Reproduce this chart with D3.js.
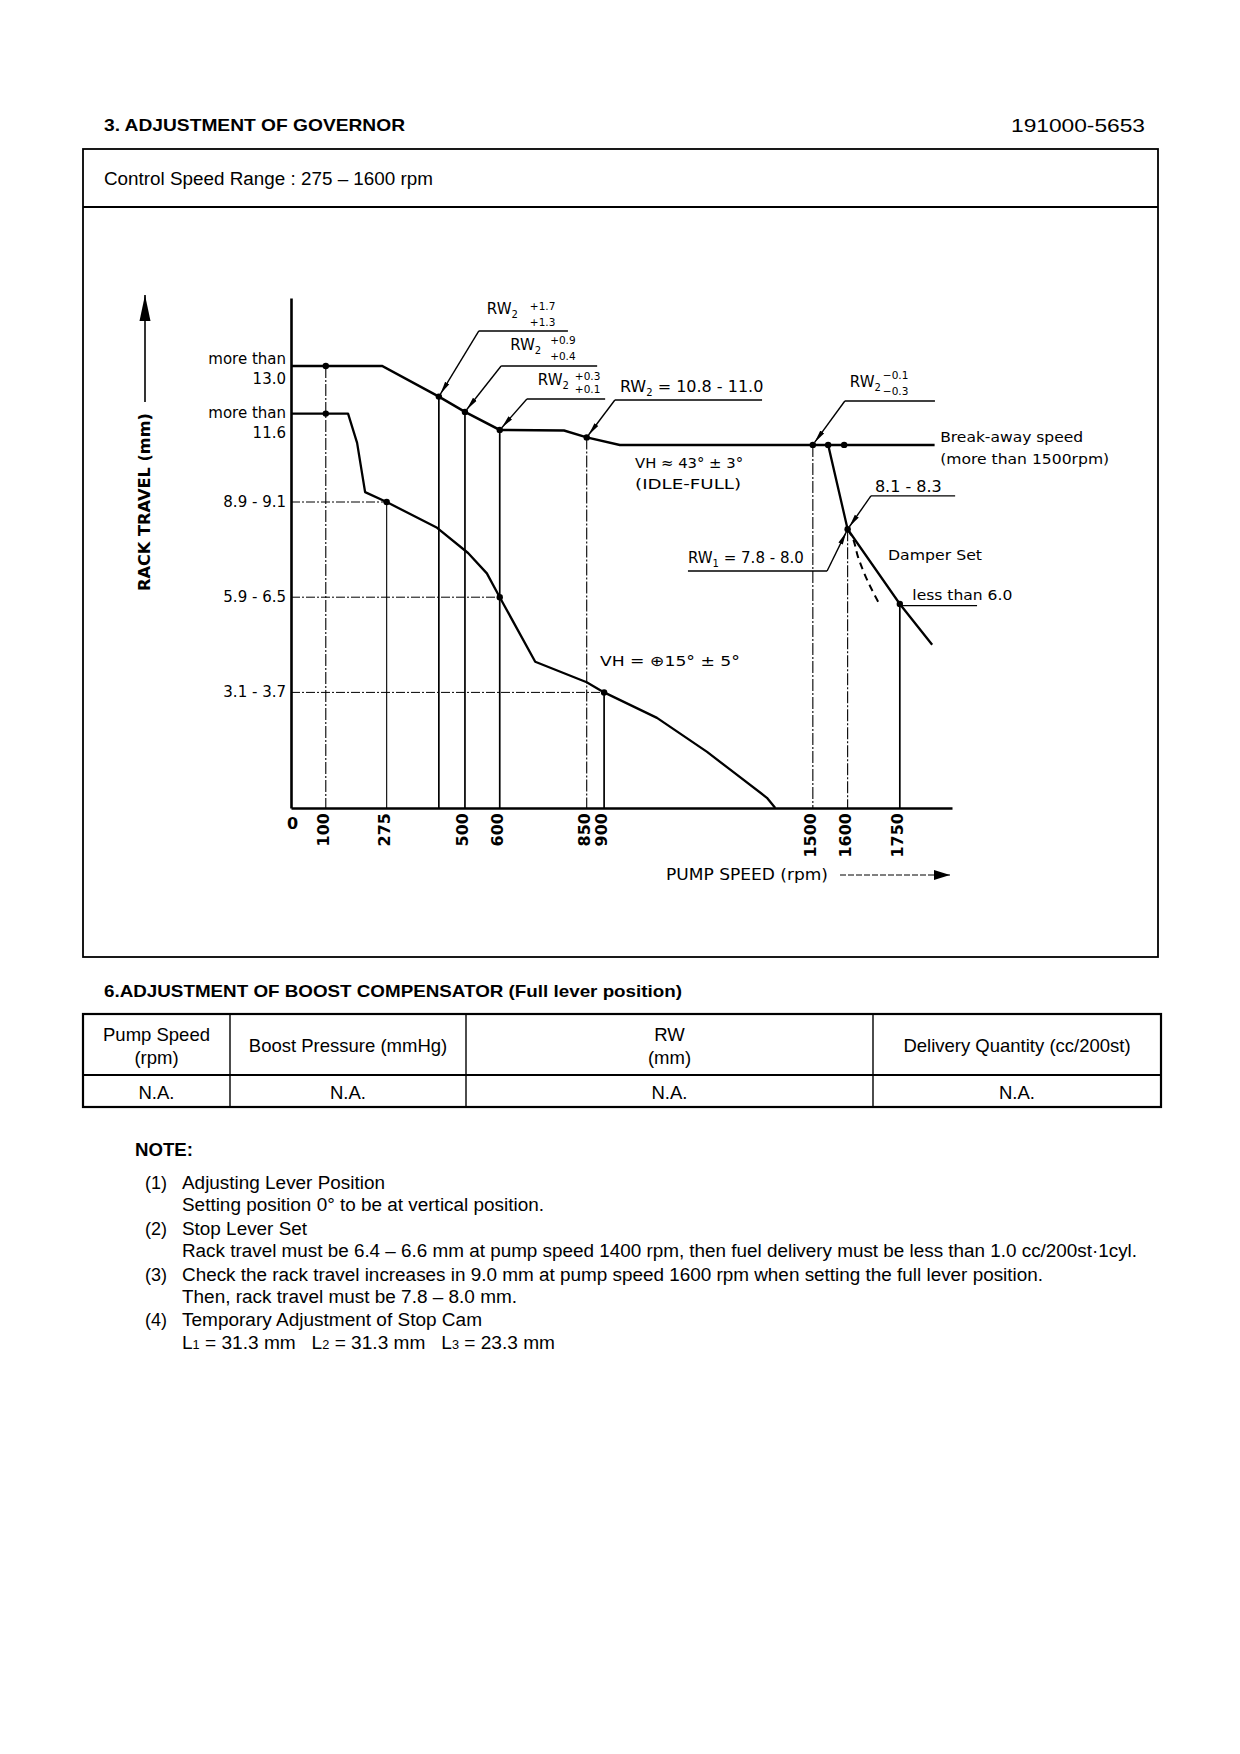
<!DOCTYPE html>
<html>
<head>
<meta charset="utf-8">
<script src="https://cdn.jsdelivr.net/npm/d3@7"></script>
<style>
  body { margin: 0; background: #fff; }
  svg text { font-family: "Liberation Sans", Arial, sans-serif; fill: #000; }
  .chart text { font-family: "DejaVu Sans", sans-serif; }
</style>
</head>
<body>
<svg width="1240" height="1754"></svg>
<script>
// ---- data (rpm / rack travel mm) ----
var rpmTicks = [0, 100, 275, 500, 600, 850, 900, 1500, 1600, 1750];

var fullRpm  = [0, 262, 425, 500, 600, 785, 850, 945, 1500, 1544, 1590, 1850];
var fullRack = [13.0, 13.0, 12.1, 11.65, 11.12, 11.1, 10.9, 10.68, 10.68, 10.68, 10.68, 10.68];

var breakRpm  = [1544, 1600, 1750, 1843];
var breakRack = [10.68, 8.2, 6.0, 4.8];

var damperRpm  = [1600, 1613, 1630, 1656, 1688];
var damperRack = [8.2, 7.97, 7.38, 6.71, 6.06];

var idleRpm  = [0, 164, 190, 213, 275, 420, 509, 563, 600, 702, 850, 900, 1052, 1196, 1271, 1368, 1392];
var idleRack = [11.6, 11.6, 10.74, 9.29, 9.0, 8.24, 7.5, 6.9, 6.2, 4.3, 3.7, 3.4, 2.65, 1.65, 1.06, 0.3, 0];

var dotRpm  = [100, 100, 275, 425, 500, 600, 850, 600, 900, 1500, 1544, 1590, 1600, 1750];
var dotRack = [13.0, 11.6, 9.0, 12.1, 11.65, 11.12, 10.9, 6.2, 3.4, 10.68, 10.68, 10.68, 8.2, 6.0];

var dropRpm  = [100, 275, 425, 500, 600, 850, 900, 1500, 1600, 1750];
var dropRack = [13.0, 9.0, 12.1, 11.65, 11.12, 10.9, 3.4, 10.68, 8.2, 6.0];
var dashDropRpm = [100, 850, 1500, 1600];

var refRpm  = [275, 600, 900];
var refRack = [9.0, 6.2, 3.4];

var rackLabelAt = [13.0, 11.6, 9.0, 6.2, 3.4];
var rackLabels  = [["more than", "13.0"], ["more than", "11.6"], ["8.9 - 9.1"], ["5.9 - 6.5"], ["3.1 - 3.7"]];

var tableHead = [["Pump Speed", "(rpm)"], ["Boost Pressure (mmHg)"], ["RW", "(mm)"], ["Delivery Quantity (cc/200st)"]];
var tableRow  = ["N.A.", "N.A.", "N.A.", "N.A."];

var notes = [
  ["(1)", "Adjusting Lever Position"],
  ["", "Setting position 0° to be at vertical position."],
  ["(2)", "Stop Lever Set"],
  ["", "Rack travel must be 6.4 – 6.6 mm at pump speed 1400 rpm, then fuel delivery must be less than 1.0 cc/200st·1cyl."],
  ["(3)", "Check the rack travel increases in 9.0 mm at pump speed 1600 rpm when setting the full lever position."],
  ["", "Then, rack travel must be 7.8 – 8.0 mm."],
  ["(4)", "Temporary Adjustment of Stop Cam"],
  ["", "L1 = 31.3 mm   L2 = 31.3 mm   L3 = 23.3 mm"]
];
var noteWidth = [203, 362, 125, 955, 861, 335, 300, 373];

var svg = d3.select("svg");
var zip = function (a, b) { return a.map(function (v, i) { return [v, b[i]]; }); };

// ---- page frame ----
svg.append("text").attr("x", 104).attr("y", 131).attr("font-size", 16.5).attr("font-weight", "bold")
  .attr("textLength", 301).attr("lengthAdjust", "spacingAndGlyphs")
  .text("3.  ADJUSTMENT OF GOVERNOR");
svg.append("text").attr("x", 1145).attr("y", 132).attr("font-size", 19).attr("text-anchor", "end")
  .attr("textLength", 134).attr("lengthAdjust", "spacingAndGlyphs")
  .text("191000-5653");

svg.append("rect").attr("x", 83).attr("y", 149).attr("width", 1075).attr("height", 808)
  .attr("fill", "none").attr("stroke", "#000").attr("stroke-width", 1.8);
svg.append("line").attr("x1", 83).attr("x2", 1158).attr("y1", 207).attr("y2", 207)
  .attr("stroke", "#000").attr("stroke-width", 1.8);
svg.append("text").attr("x", 104).attr("y", 185).attr("font-size", 18)
  .attr("textLength", 329).attr("lengthAdjust", "spacingAndGlyphs")
  .text("Control Speed Range : 275 – 1600 rpm");

// ---- chart ----
var x = d3.scaleLinear().domain([0, 1900]).range([291, 952]);
var y = d3.scaleLinear().domain([0, 15]).range([808, 298]);
var line = d3.line().x(function (d) { return x(d[0]); }).y(function (d) { return y(d[1]); });

var g = svg.append("g").attr("class", "chart");

var defs = svg.append("defs");
defs.append("marker").attr("id", "arr").attr("viewBox", "0 0 13 6")
  .attr("refX", 13).attr("refY", 3).attr("markerWidth", 13).attr("markerHeight", 6)
  .attr("markerUnits", "userSpaceOnUse").attr("orient", "auto")
  .append("path").attr("d", "M0,0.6L13,3L0,5.4Z").attr("fill", "#000");
defs.append("marker").attr("id", "arr2").attr("viewBox", "0 0 26 12")
  .attr("refX", 26).attr("refY", 6).attr("markerWidth", 26).attr("markerHeight", 12)
  .attr("markerUnits", "userSpaceOnUse").attr("orient", "auto")
  .append("path").attr("d", "M0,0.5L26,6L0,11.5Z").attr("fill", "#000");
defs.append("marker").attr("id", "arr3").attr("viewBox", "0 0 16 10")
  .attr("refX", 16).attr("refY", 5).attr("markerWidth", 16).attr("markerHeight", 10)
  .attr("markerUnits", "userSpaceOnUse").attr("orient", "auto")
  .append("path").attr("d", "M0,0L16,5L0,10Z").attr("fill", "#000");

// reference lines
g.selectAll(".ref").data(zip(refRpm, refRack)).enter().append("line")
  .attr("x1", x(0)).attr("x2", function (d) { return x(d[0]); })
  .attr("y1", function (d) { return y(d[1]); }).attr("y2", function (d) { return y(d[1]); })
  .attr("stroke", "#000").attr("stroke-width", 1).attr("stroke-dasharray", "9,2,2,2");

g.selectAll(".drop").data(zip(dropRpm, dropRack)).enter().append("line")
  .attr("x1", function (d) { return x(d[0]); }).attr("x2", function (d) { return x(d[0]); })
  .attr("y1", function (d) { return y(d[1]); }).attr("y2", y(0))
  .attr("stroke", "#000")
  .attr("stroke-width", function (d) { return dashDropRpm.indexOf(d[0]) >= 0 ? 1.1 : (d[0] === 275 ? 1.1 : 1.7); })
  .attr("stroke-dasharray", function (d) { return dashDropRpm.indexOf(d[0]) >= 0 ? "12,2,2,2" : null; });

// axes
g.append("g").attr("transform", "translate(" + x(0) + ",0)")
  .call(d3.axisLeft(y).tickValues([]).tickSizeOuter(0))
  .call(function (a) { a.select(".domain").attr("stroke-width", 2.6); });

var xa = g.append("g").attr("transform", "translate(0," + y(0) + ")")
  .call(d3.axisBottom(x).tickValues(rpmTicks).tickSize(0).tickSizeOuter(0).tickFormat(d3.format("d")));
xa.select(".domain").attr("stroke-width", 2.6);
xa.selectAll(".tick text")
  .attr("font-size", 16).attr("font-weight", "bold").attr("font-family", "DejaVu Sans Condensed, DejaVu Sans")
  .attr("dy", null).attr("y", null)
  .attr("text-anchor", function (d) { return d === 0 ? "middle" : "end"; })
  .attr("dominant-baseline", "central")
  .attr("transform", function (d) { return d === 0 ? "translate(1,15)" : "translate(-3,5) rotate(-90)"; });

// curves
g.append("path").datum(zip(fullRpm, fullRack)).attr("d", line)
  .attr("fill", "none").attr("stroke", "#000").attr("stroke-width", 2.5);
g.append("path").datum(zip(breakRpm, breakRack)).attr("d", line)
  .attr("fill", "none").attr("stroke", "#000").attr("stroke-width", 2.3);
g.append("path").datum(zip(idleRpm, idleRack)).attr("d", line)
  .attr("fill", "none").attr("stroke", "#000").attr("stroke-width", 2.3).attr("stroke-linejoin", "round");
g.append("path").datum(zip(damperRpm, damperRack)).attr("d", line.curve(d3.curveMonotoneY))
  .attr("fill", "none").attr("stroke", "#000").attr("stroke-width", 2).attr("stroke-dasharray", "7,5");
line.curve(d3.curveLinear);

g.selectAll(".dot").data(zip(dotRpm, dotRack)).enter().append("circle")
  .attr("cx", function (d) { return x(d[0]); }).attr("cy", function (d) { return y(d[1]); })
  .attr("r", 3.2).attr("fill", "#000");

// rack labels
rackLabels.forEach(function (lab, i) {
  var yy = y(rackLabelAt[i]);
  var off = lab.length === 2 ? (i === 0 ? [-2, 18] : [4, 24]) : [5];
  lab.forEach(function (s, k) {
    g.append("text").attr("x", 286).attr("y", yy + off[k]).attr("text-anchor", "end")
      .attr("font-size", 15).text(s);
  });
});

// axis titles
g.append("text").attr("transform", "translate(150,502) rotate(-90)").attr("text-anchor", "middle")
  .attr("font-size", 15).attr("font-weight", "bold")
  .attr("textLength", 178).attr("lengthAdjust", "spacingAndGlyphs").text("RACK TRAVEL (mm)");
g.append("line").attr("x1", 145).attr("x2", 145).attr("y1", 402).attr("y2", 295)
  .attr("stroke", "#000").attr("stroke-width", 1.6).attr("marker-end", "url(#arr2)");

g.append("text").attr("x", 666).attr("y", 880).attr("font-size", 15)
  .attr("textLength", 162).attr("lengthAdjust", "spacingAndGlyphs").text("PUMP SPEED (rpm)");
g.append("line").attr("x1", 840).attr("x2", 950).attr("y1", 875).attr("y2", 875)
  .attr("stroke", "#000").attr("stroke-width", 1).attr("stroke-dasharray", "6,2")
  .attr("marker-end", "url(#arr3)");

// ---- leader annotations (target point, shelf in data units, text offsets in px) ----
var leaders = [
  { to: [425, 12.1], shelf: [540, 796, 14.03], from: "left", main: "RW", sub: "2", mainDx: 8, mainDy: -17, sups: ["+1.7", "+1.3"], supDx: 51, supDy: [-21, -5] },
  { to: [500, 11.65], shelf: [604, 880, 13.0], from: "left", main: "RW", sub: "2", mainDx: 9, mainDy: -16, sups: ["+0.9", "+0.4"], supDx: 49, supDy: [-22, -6] },
  { to: [600, 11.12], shelf: [678, 903, 12.03], from: "left", main: "RW", sub: "2", mainDx: 11, mainDy: -14, sups: ["+0.3", "+0.1"], supDx: 48, supDy: [-19, -6] },
  { to: [850, 10.9], shelf: [931, 1354, 12.0], from: "left", main: "RW", sub: "2", tail: " = 10.8 - 11.0", mainDx: 5, mainDy: -8, size: 16 },
  { to: [1500, 10.68], shelf: [1592, 1851, 11.97], from: "left", main: "RW", sub: "2", mainDx: 5, mainDy: -14, sups: ["−0.1", "−0.3"], supDx: 38, supDy: [-22, -6] },
  { to: [1600, 8.2], shelf: [1667, 1909, 9.18], from: "left", main: "8.1 - 8.3", mainDx: 4, mainDy: -4, size: 16 },
  { to: [1600, 8.2], shelf: [1141, 1541, 6.97], from: "right", main: "RW", sub: "1", tail: " = 7.8 - 8.0", mainDx: 0, mainDy: -8, size: 15 }
];

leaders.forEach(function (a) {
  var sx0 = x(a.shelf[0]), sx1 = x(a.shelf[1]), sy = y(a.shelf[2]);
  var tx = x(a.to[0]), ty = y(a.to[1]);
  var ox = a.from === "left" ? sx0 : sx1;
  var dx = tx - ox, dy = ty - sy, len = Math.sqrt(dx * dx + dy * dy);
  var ex = tx - dx / len * 3, ey = ty - dy / len * 3;
  g.append("path").attr("d", "M" + sx1 + "," + sy + "H" + sx0).attr("fill", "none")
    .attr("stroke", "#000").attr("stroke-width", 1.4);
  g.append("line").attr("x1", ox).attr("y1", sy).attr("x2", ex).attr("y2", ey)
    .attr("stroke", "#000").attr("stroke-width", 1.4).attr("marker-end", "url(#arr)");
  var t = g.append("text").attr("x", sx0 + a.mainDx).attr("y", sy + a.mainDy).attr("font-size", a.size || 15);
  t.append("tspan").text(a.main);
  if (a.sub) t.append("tspan").attr("font-size", 10).attr("dy", 4).text(a.sub);
  if (a.tail) t.append("tspan").attr("dy", -4).text(a.tail);
  if (a.sups) a.sups.forEach(function (s, k) {
    g.append("text").attr("x", sx0 + a.supDx).attr("y", sy + a.supDy[k]).attr("font-size", 10.5).text(s);
  });
});

// ---- free labels (data units, text, width) ----
var freeLabels = [
  ["Break-away speed", 1866, 10.76, 143],
  ["(more than 1500rpm)", 1866, 10.12, 169],
  ["VH ≈ 43° ± 3°", 989, 10.0, 108],
  ["(IDLE-FULL)", 989, 9.38, 106],
  ["Damper Set", 1716, 7.29, 94],
  ["less than 6.0", 1786, 6.12, 100],
  ["VH = ⊕15° ± 5°", 888, 4.18, 140]
];
g.selectAll(".free").data(freeLabels).enter().append("text")
  .attr("x", function (d) { return x(d[1]); }).attr("y", function (d) { return y(d[2]); })
  .attr("font-size", 14.5).attr("textLength", function (d) { return d[3]; })
  .attr("lengthAdjust", "spacingAndGlyphs").text(function (d) { return d[0]; });
g.append("line").attr("x1", x(1750)).attr("x2", x(1972)).attr("y1", y(5.95)).attr("y2", y(5.95))
  .attr("stroke", "#000").attr("stroke-width", 1.3);

// ---- boost compensator table ----
svg.append("text").attr("x", 104).attr("y", 997).attr("font-size", 16.5).attr("font-weight", "bold")
  .attr("textLength", 578).attr("lengthAdjust", "spacingAndGlyphs")
  .text("6.ADJUSTMENT OF BOOST COMPENSATOR (Full lever position)");

var colX = [83, 230, 466, 873, 1161];
var tb = svg.append("g");
tb.append("rect").attr("x", 83).attr("y", 1014).attr("width", 1078).attr("height", 93)
  .attr("fill", "none").attr("stroke", "#000").attr("stroke-width", 2.2);
tb.append("line").attr("x1", 83).attr("x2", 1161).attr("y1", 1075).attr("y2", 1075)
  .attr("stroke", "#000").attr("stroke-width", 2.2);
colX.slice(1, 4).forEach(function (cx) {
  tb.append("line").attr("x1", cx).attr("x2", cx).attr("y1", 1014).attr("y2", 1107)
    .attr("stroke", "#000").attr("stroke-width", 1.4);
});
tableHead.forEach(function (h, i) {
  var cx = (colX[i] + colX[i + 1]) / 2;
  var ys = h.length === 2 ? [1041, 1064] : [1052];
  h.forEach(function (s, k) {
    tb.append("text").attr("x", cx).attr("y", ys[k]).attr("text-anchor", "middle").attr("font-size", 18.5).text(s);
  });
  tb.append("text").attr("x", cx).attr("y", 1099).attr("text-anchor", "middle").attr("font-size", 18.5).text(tableRow[i]);
});

// ---- notes ----
svg.append("text").attr("x", 135).attr("y", 1156).attr("font-size", 17.5).attr("font-weight", "bold")
  .attr("textLength", 58).attr("lengthAdjust", "spacingAndGlyphs").text("NOTE:");
var noteY = [1189, 1211, 1235, 1257, 1281, 1303, 1326, 1349];
notes.forEach(function (n, i) {
  if (n[0]) svg.append("text").attr("x", 145).attr("y", noteY[i]).attr("font-size", 18).text(n[0]);
  var t = svg.append("text").attr("x", 182).attr("y", noteY[i]).attr("font-size", 18)
    .attr("textLength", noteWidth[i]).attr("lengthAdjust", "spacingAndGlyphs");
  if (i < notes.length - 1) {
    t.text(n[1]);
  } else {
    t.attr("style", "white-space:pre");
    ["L", "1", " = 31.3 mm   L", "2", " = 31.3 mm   L", "3", " = 23.3 mm"].forEach(function (s, k) {
      t.append("tspan").attr("font-size", k % 2 ? 12 : null).text(s);
    });
  }
});
</script>
</body>
</html>
